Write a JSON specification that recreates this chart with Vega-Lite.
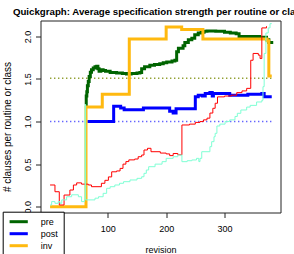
{
  "$schema": "https://vega.github.io/schema/vega-lite/v6.json",
  "width": 240,
  "height": 192,
  "autosize": {"type": "none"},
  "padding": {"left": 40.5, "top": 20.5, "right": 13.5, "bottom": 41.5},
  "background": "white",
  "title": {
    "text": "Quickgraph: Average specification strength per routine or class",
    "anchor": "middle",
    "baseline": "alphabetic",
    "offset": 6,
    "dx": -1,
    "dy": 10.5,
    "font": "Liberation Sans",
    "fontSize": 9.7,
    "fontWeight": "bold",
    "color": "#000"
  },
  "config": {
    "font": "Liberation Sans",
    "view": {"stroke": "#222", "strokeWidth": 1},
    "axis": {
      "grid": false,
      "domain": false,
      "tickColor": "#222",
      "tickSize": 5,
      "labelColor": "#000",
      "labelFontSize": 9,
      "titleColor": "#000",
      "titleFontSize": 9,
      "titleFontWeight": "normal"
    }
  },
  "datasets": {
    "series": [
      {"s": "pre", "x": 62, "y": 1.2}, {"s": "pre", "x": 63, "y": 1.3}, {"s": "pre", "x": 64, "y": 1.35}, {"s": "pre", "x": 65, "y": 1.42},
      {"s": "pre", "x": 66.5, "y": 1.47}, {"s": "pre", "x": 68, "y": 1.53}, {"s": "pre", "x": 70, "y": 1.58}, {"s": "pre", "x": 72, "y": 1.61},
      {"s": "pre", "x": 75, "y": 1.63}, {"s": "pre", "x": 78, "y": 1.645}, {"s": "pre", "x": 81, "y": 1.65}, {"s": "pre", "x": 83, "y": 1.62},
      {"s": "pre", "x": 85, "y": 1.59}, {"s": "pre", "x": 88, "y": 1.61}, {"s": "pre", "x": 92, "y": 1.6}, {"s": "pre", "x": 96, "y": 1.59},
      {"s": "pre", "x": 104, "y": 1.575}, {"s": "pre", "x": 115, "y": 1.57}, {"s": "pre", "x": 125, "y": 1.565}, {"s": "pre", "x": 132, "y": 1.56},
      {"s": "pre", "x": 140, "y": 1.565}, {"s": "pre", "x": 150, "y": 1.57}, {"s": "pre", "x": 155, "y": 1.575}, {"s": "pre", "x": 158, "y": 1.62},
      {"s": "pre", "x": 163, "y": 1.645}, {"s": "pre", "x": 172, "y": 1.66}, {"s": "pre", "x": 180, "y": 1.67}, {"s": "pre", "x": 189, "y": 1.68},
      {"s": "pre", "x": 195, "y": 1.69}, {"s": "pre", "x": 201, "y": 1.7}, {"s": "pre", "x": 210, "y": 1.71}, {"s": "pre", "x": 215, "y": 1.72},
      {"s": "pre", "x": 218, "y": 1.82}, {"s": "pre", "x": 221, "y": 1.86}, {"s": "pre", "x": 229, "y": 1.89}, {"s": "pre", "x": 232, "y": 1.93},
      {"s": "pre", "x": 238, "y": 1.96}, {"s": "pre", "x": 244, "y": 1.98}, {"s": "pre", "x": 249, "y": 2.02}, {"s": "pre", "x": 255, "y": 2.04},
      {"s": "pre", "x": 260, "y": 2.05}, {"s": "pre", "x": 265, "y": 2.06}, {"s": "pre", "x": 270, "y": 2.065}, {"s": "pre", "x": 285, "y": 2.06},
      {"s": "pre", "x": 300, "y": 2.05}, {"s": "pre", "x": 310, "y": 2.04}, {"s": "pre", "x": 320, "y": 2.03}, {"s": "pre", "x": 325, "y": 2.0},
      {"s": "pre", "x": 340, "y": 2.0}, {"s": "pre", "x": 360, "y": 1.99}, {"s": "pre", "x": 368, "y": 1.99}, {"s": "pre", "x": 372, "y": 1.96},
      {"s": "pre", "x": 376, "y": 1.93}, {"s": "pre", "x": 381, "y": 1.91},

      {"s": "post", "x": 65, "y": 1.0}, {"s": "post", "x": 110, "y": 1.18}, {"s": "post", "x": 122, "y": 1.16}, {"s": "post", "x": 128, "y": 1.14},
      {"s": "post", "x": 161, "y": 1.16}, {"s": "post", "x": 206, "y": 1.12}, {"s": "post", "x": 212, "y": 1.1}, {"s": "post", "x": 217, "y": 1.15},
      {"s": "post", "x": 250, "y": 1.29}, {"s": "post", "x": 255, "y": 1.31}, {"s": "post", "x": 262, "y": 1.3}, {"s": "post", "x": 267, "y": 1.33},
      {"s": "post", "x": 275, "y": 1.34}, {"s": "post", "x": 279, "y": 1.3}, {"s": "post", "x": 281, "y": 1.33}, {"s": "post", "x": 309, "y": 1.31},
      {"s": "post", "x": 340, "y": 1.32}, {"s": "post", "x": 364, "y": 1.33}, {"s": "post", "x": 368, "y": 1.29}, {"s": "post", "x": 381, "y": 1.29},

      {"s": "inv", "x": 1, "y": 0}, {"s": "inv", "x": 62.6, "y": 1.17}, {"s": "inv", "x": 90.5, "y": 1.32}, {"s": "inv", "x": 136.8, "y": 1.97},
      {"s": "inv", "x": 200, "y": 2.11}, {"s": "inv", "x": 226.6, "y": 2.08}, {"s": "inv", "x": 263, "y": 1.97}, {"s": "inv", "x": 373, "y": 1.95},
      {"s": "inv", "x": 376, "y": 1.535}, {"s": "inv", "x": 381, "y": 1.535},

      {"s": "red", "x": 1, "y": 0.255}, {"s": "red", "x": 9.4, "y": 0.176}, {"s": "red", "x": 16.8, "y": 0.02}, {"s": "red", "x": 25, "y": 0.137},
      {"s": "red", "x": 35, "y": 0.196}, {"s": "red", "x": 41, "y": 0.255}, {"s": "red", "x": 46.6, "y": 0.28}, {"s": "red", "x": 55, "y": 0.265},
      {"s": "red", "x": 66.5, "y": 0.255}, {"s": "red", "x": 72, "y": 0.235}, {"s": "red", "x": 89, "y": 0.275}, {"s": "red", "x": 95, "y": 0.31},
      {"s": "red", "x": 101, "y": 0.35}, {"s": "red", "x": 106.6, "y": 0.41}, {"s": "red", "x": 115, "y": 0.42}, {"s": "red", "x": 121, "y": 0.45},
      {"s": "red", "x": 126, "y": 0.5}, {"s": "red", "x": 131, "y": 0.53}, {"s": "red", "x": 136, "y": 0.55}, {"s": "red", "x": 146, "y": 0.56},
      {"s": "red", "x": 152, "y": 0.587}, {"s": "red", "x": 158, "y": 0.607}, {"s": "red", "x": 162, "y": 0.666}, {"s": "red", "x": 168, "y": 0.686},
      {"s": "red", "x": 174, "y": 0.646}, {"s": "red", "x": 190, "y": 0.63}, {"s": "red", "x": 200, "y": 0.62}, {"s": "red", "x": 206, "y": 0.6},
      {"s": "red", "x": 212, "y": 0.625}, {"s": "red", "x": 220, "y": 0.61}, {"s": "red", "x": 227, "y": 0.96}, {"s": "red", "x": 240, "y": 0.97},
      {"s": "red", "x": 250, "y": 0.99}, {"s": "red", "x": 258, "y": 1.0}, {"s": "red", "x": 264, "y": 1.02}, {"s": "red", "x": 270, "y": 1.04},
      {"s": "red", "x": 275, "y": 1.1}, {"s": "red", "x": 280, "y": 1.156}, {"s": "red", "x": 284, "y": 1.215}, {"s": "red", "x": 288, "y": 1.29},
      {"s": "red", "x": 300, "y": 1.3}, {"s": "red", "x": 312, "y": 1.31}, {"s": "red", "x": 321, "y": 1.34}, {"s": "red", "x": 330, "y": 1.36},
      {"s": "red", "x": 338, "y": 1.39}, {"s": "red", "x": 345, "y": 1.72}, {"s": "red", "x": 349, "y": 1.8}, {"s": "red", "x": 358, "y": 1.78},
      {"s": "red", "x": 361, "y": 1.74}, {"s": "red", "x": 364, "y": 2.1}, {"s": "red", "x": 372, "y": 2.12},

      {"s": "aqua", "x": 1, "y": 0.02}, {"s": "aqua", "x": 3.7, "y": 0.06}, {"s": "aqua", "x": 9.4, "y": 0.04}, {"s": "aqua", "x": 15, "y": 0.06},
      {"s": "aqua", "x": 18, "y": 0.04}, {"s": "aqua", "x": 21, "y": 0.08}, {"s": "aqua", "x": 29.4, "y": 0.117}, {"s": "aqua", "x": 38, "y": 0.14},
      {"s": "aqua", "x": 49.5, "y": 0.117}, {"s": "aqua", "x": 55, "y": 0.06}, {"s": "aqua", "x": 60, "y": 0.08}, {"s": "aqua", "x": 61, "y": 1.2},
      {"s": "aqua", "x": 62, "y": 0.08}, {"s": "aqua", "x": 78, "y": 0.1}, {"s": "aqua", "x": 84, "y": 0.117}, {"s": "aqua", "x": 92, "y": 0.157},
      {"s": "aqua", "x": 98, "y": 0.216}, {"s": "aqua", "x": 104, "y": 0.235}, {"s": "aqua", "x": 112, "y": 0.255}, {"s": "aqua", "x": 120, "y": 0.275},
      {"s": "aqua", "x": 127, "y": 0.294}, {"s": "aqua", "x": 138, "y": 0.314}, {"s": "aqua", "x": 150, "y": 0.333}, {"s": "aqua", "x": 158, "y": 0.352},
      {"s": "aqua", "x": 162, "y": 0.392}, {"s": "aqua", "x": 166, "y": 0.431}, {"s": "aqua", "x": 170, "y": 0.47}, {"s": "aqua", "x": 181, "y": 0.5},
      {"s": "aqua", "x": 193, "y": 0.529}, {"s": "aqua", "x": 200, "y": 0.568}, {"s": "aqua", "x": 212, "y": 0.587}, {"s": "aqua", "x": 220, "y": 0.607},
      {"s": "aqua", "x": 227, "y": 0.529}, {"s": "aqua", "x": 236, "y": 0.54}, {"s": "aqua", "x": 244, "y": 0.549}, {"s": "aqua", "x": 252, "y": 0.568},
      {"s": "aqua", "x": 256, "y": 0.53}, {"s": "aqua", "x": 258, "y": 0.568}, {"s": "aqua", "x": 261, "y": 0.646}, {"s": "aqua", "x": 275, "y": 0.705},
      {"s": "aqua", "x": 278, "y": 0.764}, {"s": "aqua", "x": 282, "y": 0.822}, {"s": "aqua", "x": 284, "y": 0.862}, {"s": "aqua", "x": 287, "y": 0.948},
      {"s": "aqua", "x": 292, "y": 0.97}, {"s": "aqua", "x": 301, "y": 1.0}, {"s": "aqua", "x": 309, "y": 1.02}, {"s": "aqua", "x": 318, "y": 1.06},
      {"s": "aqua", "x": 322, "y": 1.097}, {"s": "aqua", "x": 328, "y": 1.136}, {"s": "aqua", "x": 338, "y": 1.17}, {"s": "aqua", "x": 344, "y": 1.19},
      {"s": "aqua", "x": 355, "y": 1.23}, {"s": "aqua", "x": 364, "y": 1.25}, {"s": "aqua", "x": 366, "y": 1.41}, {"s": "aqua", "x": 368, "y": 1.8},
      {"s": "aqua", "x": 371, "y": 2.04}, {"s": "aqua", "x": 375, "y": 2.1}, {"s": "aqua", "x": 378, "y": 2.15}, {"s": "aqua", "x": 381, "y": 2.15}
    ],
    "averages": [
      {"s": "pre/inv", "x": 1, "x2": 381, "y": 1.51},
      {"s": "post", "x": 1, "x2": 381, "y": 1.0}
    ]
  },
  "encoding": {
    "x": {
      "field": "x", "type": "quantitative",
      "scale": {"domain": [-15.4, 396], "nice": false, "zero": false},
      "axis": {"values": [100, 200, 300], "title": "revision", "labelPadding": 7, "labelBaseline": "top", "titleBaseline": "alphabetic", "titleY": 39.5, "titleAnchor": "middle"}
    },
    "y": {
      "field": "y", "type": "quantitative",
      "scale": {"domain": [-0.068, 2.187], "nice": false, "zero": false},
      "axis": {"values": [0, 0.5, 1, 1.5, 2], "format": ".1f", "title": "# clauses per routine or class",
        "labelAngle": 270, "labelAlign": "center", "labelBaseline": "alphabetic", "labelPadding": 5.5,
        "titleAngle": 270, "titleAlign": "center", "titleBaseline": "alphabetic", "titleX": -30.5, "titleY": 106, "titleFontSize": 10}
    }
  },
  "layer": [
    {
      "data": {"name": "averages"},
      "transform": [{"filter": "datum.s == 'pre/inv'"}],
      "mark": {"type": "rule", "color": "#8c9b28", "strokeWidth": 1.5, "strokeDash": [1.3, 2.7]},
      "encoding": {"x2": {"field": "x2"}}
    },
    {
      "data": {"name": "averages"},
      "transform": [{"filter": "datum.s == 'post'"}],
      "mark": {"type": "rule", "color": "#5a5aff", "strokeWidth": 1.5, "strokeDash": [1.3, 2.7]},
      "encoding": {"x2": {"field": "x2"}}
    },
    {
      "data": {"name": "series"},
      "transform": [{"filter": "datum.s == 'pre'"}],
      "mark": {"type": "line", "interpolate": "step-after", "strokeWidth": 3},
      "encoding": {"color": {"field": "s", "type": "nominal",
        "scale": {"domain": ["pre", "post", "inv"], "range": ["#006400", "#0000ff", "#ffb90f"]},
        "legend": {"orient": "none", "legendX": -37.8, "legendY": 191.2, "title": null,
          "strokeColor": "#000", "fillColor": "#fff", "padding": 5, "symbolType": "M-2.6,0H2.6",
          "symbolStrokeWidth": 3, "symbolSize": 49, "symbolOffset": 6, "labelFontSize": 9, "labelOffset": 17, "rowPadding": 0, "labelColor": "#000"}}}
    },
    {
      "data": {"name": "series"},
      "transform": [{"filter": "datum.s == 'post'"}],
      "mark": {"type": "line", "interpolate": "step-after", "strokeWidth": 3},
      "encoding": {"color": {"field": "s", "type": "nominal"}}
    },
    {
      "data": {"name": "series"},
      "transform": [{"filter": "datum.s == 'inv'"}],
      "mark": {"type": "line", "interpolate": "step-after", "strokeWidth": 3},
      "encoding": {"color": {"field": "s", "type": "nominal"}}
    },
    {
      "data": {"name": "series"},
      "transform": [{"filter": "datum.s == 'red'"}],
      "mark": {"type": "line", "interpolate": "step-after", "strokeWidth": 1, "color": "#ff0000"}
    },
    {
      "data": {"name": "series"},
      "transform": [{"filter": "datum.s == 'aqua'"}],
      "mark": {"type": "line", "interpolate": "step-after", "strokeWidth": 1, "color": "#7fffd4"}
    }
  ]
}
